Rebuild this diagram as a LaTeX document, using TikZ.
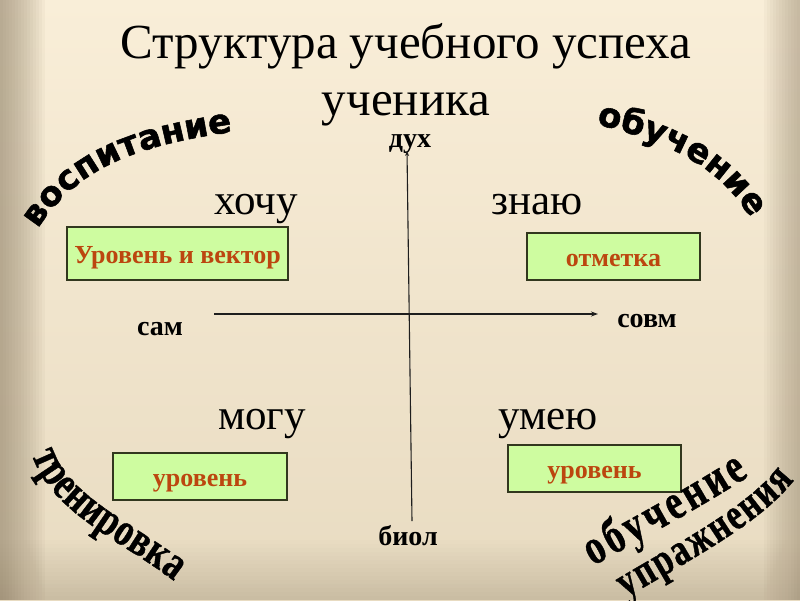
\documentclass[tikz,border=0pt]{standalone}
\usepackage{fontspec}
\setmainfont{Liberation Serif}
\newfontfamily\artsans[BoldFeatures={FakeBold=1.6}]{DejaVu Sans}
\newfontfamily\condserif[FakeStretch=0.76, BoldFeatures={FakeBold=0.8}]{Liberation Serif}
\usetikzlibrary{decorations.text,arrows.meta}
\definecolor{bgtop}{RGB}{249,238,216}
\definecolor{bgbot}{RGB}{232,219,193}
\definecolor{edge}{RGB}{150,135,110}
\definecolor{boxfill}{RGB}{206,252,160}
\definecolor{boxline}{RGB}{50,55,30}
\definecolor{boxtext}{RGB}{188,70,15}
\definecolor{axiscol}{RGB}{30,30,30}
\begin{document}
\begin{tikzpicture}[x=1pt,y=-1pt,
  title/.style={font=\fontsize{49}{49}\selectfont, anchor=base, inner sep=0pt},
  word/.style={font=\fontsize{43}{43}\selectfont, anchor=base, inner sep=0pt},
  lab/.style={font=\bfseries\fontsize{28}{28}\selectfont, anchor=base, inner sep=0pt},
  box/.style={draw=boxline, fill=boxfill, line width=1.2pt, inner sep=0pt,
    text=boxtext, font=\bfseries\fontsize{26}{26}\selectfont,
    text height=19pt, text depth=0pt},
  axisline/.style={draw=axiscol, line width=1.1pt},
  arch/.style={decorate}
]
\useasboundingbox (0,0) rectangle (800,600);
% background
\shade[top color=bgtop, bottom color=bgbot] (0,0) rectangle (800,600);
\foreach \w in {3,6,...,45} \fill[edge,opacity=0.06] (0,0) rectangle (\w,600);
\foreach \w in {3,6,...,36} \fill[edge,opacity=0.05] (800-\w,0) rectangle (800,600);
\foreach \h in {4,8,...,60} \fill[edge,opacity=0.02] (0,600-\h) rectangle (800,600);

% title
\node[title] (t1) at (406,58) {Структура учебного успеха};
\node[title] (t2) at (406,115) {ученика};

% quadrant words
\node[word] (want) at (256,214) {хочу};
\node[word] (know) at (537,214) {знаю};
\node[word] (can) at (262,429) {могу};
\node[word] (able) at (548,429) {умею};

% axis labels
\node[lab] (dukh) at (410,147) {дух};
\node[lab] (biol) at (408,545) {биол};
\node[lab] (sam) at (160,335) {сам};
\node[lab] (sovm) at (647,327) {совм};

% axes
\coordinate (hL) at (214,314);
\coordinate (hR) at (598,314);
\coordinate (vB) at (412,521);
\coordinate (vT) at (407,151);
\draw[axisline, -{Stealth[length=7pt,width=5pt]}] (hL) -- (hR);
\draw[axisline, -{Stealth[length=5pt,width=4pt]}] (vB) -- (vT);

% boxes
\node[box, minimum width=221pt, minimum height=53pt] (b1) at (177.5,253.5) {Уровень и вектор};
\node[box, minimum width=173pt, minimum height=47pt] (b2) at (613.5,256.5) {отметка};
\node[box, minimum width=174pt, minimum height=47pt] (b3) at (200,476.5) {уровень};
\node[box, minimum width=173pt, minimum height=47pt] (b4) at (594.5,468.5) {уровень};

% arched words
\path[arch, decoration={text along path, text align=center,
  text={|\artsans\bfseries\fontsize{34}{34}\selectfont|воспитание}}]
  (28,246) .. controls (72,160) and (150,143) .. (252,129);
\path[arch, decoration={text along path, text align=center,
  text={|\artsans\bfseries\fontsize{34}{34}\selectfont|обучение}}]
  (583,121) .. controls (655,138) and (722,160) .. (757,230);
\path[arch, decoration={text along path, text align={fit to path},
  text={|\condserif\bfseries\fontsize{47}{47}\selectfont|тренировка}}]
  (32,455) .. controls (52,514) and (124,542) .. (174,581);
\path[arch, decoration={text along path, text align={fit to path},
  text={|\condserif\bfseries\fontsize{50}{50}\selectfont|обучение}}]
  (593,566) .. controls (640,540) and (705,505) .. (749,476);
\path[arch, decoration={text along path, text align={fit to path},
  text={|\condserif\bfseries\fontsize{45}{45}\selectfont|упражнения}}]
  (626,598) .. controls (680,565) and (760,525) .. (794,480);
\end{tikzpicture}
\end{document}
